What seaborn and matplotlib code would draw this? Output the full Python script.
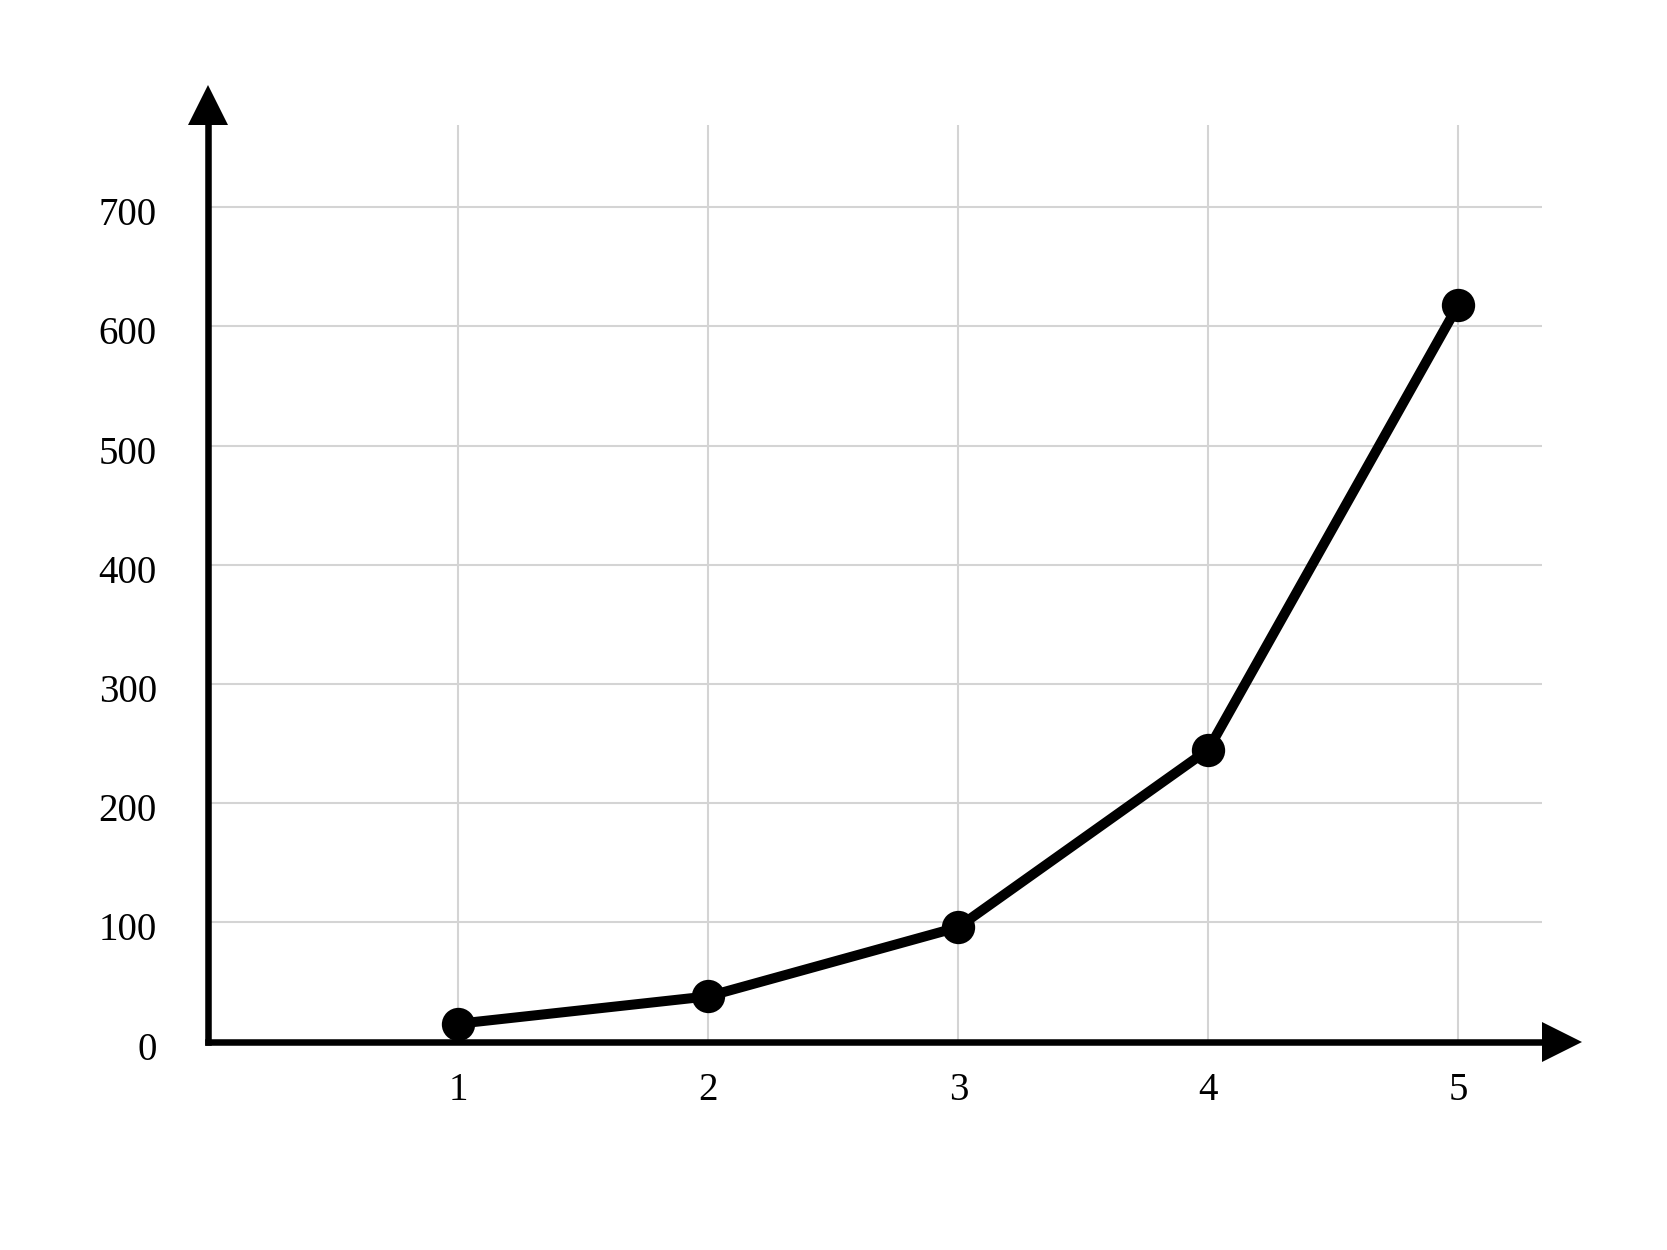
import matplotlib
matplotlib.use("Agg")
import matplotlib.pyplot as plt
from matplotlib.transforms import offset_copy, ScaledTranslation
import seaborn as sns
import pandas as pd

# Data
x_values = [1, 2, 3, 4, 5]
y_values = [15, 38, 96, 245, 618]
y_ticks = [0, 100, 200, 300, 400, 500, 600, 700]

df = pd.DataFrame({"x": x_values, "y": y_values})

sns.set_theme(style="whitegrid")
plt.rcParams["font.family"] = ["Liberation Serif", "DejaVu Serif"]

fig = plt.figure(figsize=(16.67, 12.5), dpi=100)
ax = fig.add_axes([0.125, 0.1667, 0.8, 0.7333])
ax.set_facecolor("white")

sns.lineplot(data=df, x="x", y="y", ax=ax, color="black", linewidth=7.2,
             marker="o", markersize=24, markeredgewidth=0, clip_on=False,
             zorder=5)

ax.set_xlim(0, 5.335)
ax.set_ylim(0, 769)
ax.set_xticks(x_values)
ax.set_yticks(y_ticks)
ax.set_xlabel("")
ax.set_ylabel("")

ax.grid(True, color="#d4d4d4", linewidth=1.5)
ax.tick_params(axis="x", length=0, pad=22, labelsize=28, colors="black")
ax.tick_params(axis="y", length=0, pad=37, labelsize=28, colors="black")

# y labels sit a little below their grid lines in the reference
shift = ScaledTranslation(0, -0.04, fig.dpi_scale_trans)
for lab in ax.get_yticklabels():
    lab.set_transform(lab.get_transform() + shift)

for side in ["top", "right"]:
    ax.spines[side].set_visible(False)
for side in ["left", "bottom"]:
    ax.spines[side].set_color("black")
    ax.spines[side].set_linewidth(4.7)
    ax.spines[side].set_zorder(6)

# arrow heads at the ends of the axes
up = offset_copy(ax.transAxes, fig=fig, y=20.5, units="dots")
right = offset_copy(ax.transAxes, fig=fig, x=20.5, units="dots")
ax.plot([0], [1], marker="^", markersize=29.5, color="black",
        markeredgewidth=0, transform=up, clip_on=False)
ax.plot([1], [0], marker=">", markersize=29.5, color="black",
        markeredgewidth=0, transform=right, clip_on=False)

fig.savefig("out.png", dpi=100, facecolor="white")
